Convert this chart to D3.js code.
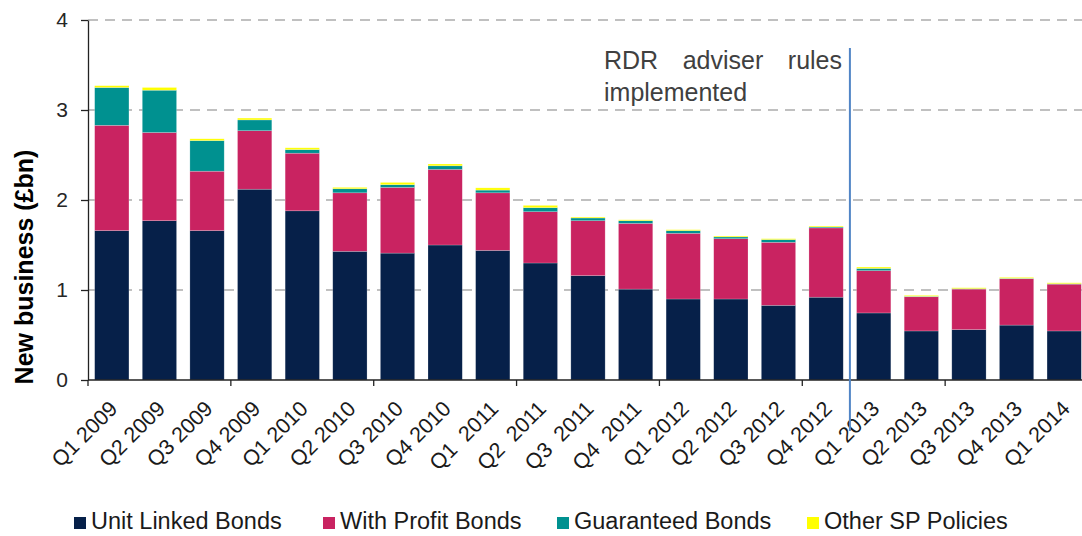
<!DOCTYPE html>
<html>
<head>
<meta charset="utf-8">
<script src="https://cdn.jsdelivr.net/npm/d3@7"></script>
<style>
  body { margin: 0; background: #fff; }
  svg { display: block; font-family: "Liberation Sans", Arial, sans-serif; }
</style>
</head>
<body>
<script>
const w = 1082;
const h = 536;

// quarters on the x axis (some labels carry a double space, as in the source)
const quarters = ["Q1 2009", "Q2 2009", "Q3 2009", "Q4 2009", "Q1 2010", "Q2 2010", "Q3 2010", "Q4 2010",
  "Q1  2011", "Q2  2011", "Q3  2011", "Q4  2011", "Q1 2012", "Q2 2012", "Q3 2012", "Q4 2012",
  "Q1 2013", "Q2 2013", "Q3 2013", "Q4 2013", "Q1 2014"];

// new business, £bn
const unitLinked = [1.66, 1.77, 1.66, 2.12, 1.88, 1.43, 1.41, 1.50, 1.44, 1.30, 1.16, 1.01, 0.90, 0.90, 0.83, 0.92, 0.745, 0.545, 0.56, 0.61, 0.545];
const withProfit = [1.17, 0.98, 0.66, 0.65, 0.64, 0.65, 0.73, 0.84, 0.64, 0.57, 0.61, 0.73, 0.73, 0.67, 0.70, 0.77, 0.47, 0.38, 0.45, 0.515, 0.52];
const guaranteed = [0.42, 0.47, 0.34, 0.12, 0.04, 0.045, 0.03, 0.04, 0.03, 0.045, 0.03, 0.03, 0.03, 0.02, 0.03, 0.01, 0.025, 0.005, 0.005, 0.005, 0.005];
const otherSP = [0.02, 0.03, 0.02, 0.02, 0.02, 0.015, 0.025, 0.02, 0.025, 0.025, 0.01, 0.01, 0.01, 0.01, 0.01, 0.01, 0.015, 0.01, 0.01, 0.01, 0.01];

const seriesNames = ["Unit Linked Bonds", "With Profit Bonds", "Guaranteed Bonds", "Other SP Policies"];
const seriesKeys = ["ul", "wp", "gb", "ot"];
const colors = ["#062049", "#c92361", "#009190", "#ffff00"];
const yTicks = [0, 1, 2, 3, 4];

const rdrIndex = 16; // line drawn before Q1 2013
const rdrText = ["RDR", "adviser", "rules"];
const rdrText2 = "implemented";

const rows = quarters.map((q, i) => ({
  q: q, ul: unitLinked[i], wp: withProfit[i], gb: guaranteed[i], ot: otherSP[i]
}));

const plotLeft = 88, plotRight = 1088, plotTop = 20, plotBottom = 380;

const svg = d3.select("body").append("svg")
  .attr("width", w)
  .attr("height", h);

const x = d3.scaleBand()
  .domain(quarters)
  .range([plotLeft, plotRight])
  .paddingInner(0.28)
  .paddingOuter(0.14);

const y = d3.scaleLinear()
  .domain([0, 4])
  .range([plotBottom, plotTop]);

const step = x.step();
const edge = i => x(quarters[i]) - (step - x.bandwidth()) / 2;

// dashed gridlines
svg.append("g")
  .selectAll("line")
  .data(yTicks.filter(d => d > 0))
  .enter()
  .append("line")
  .attr("x1", plotLeft)
  .attr("x2", w)
  .attr("y1", d => y(d))
  .attr("y2", d => y(d))
  .attr("stroke", "#c0c0c0")
  .attr("stroke-width", 2)
  .attr("stroke-dasharray", "10,7");

// stacked bars
const stacked = d3.stack().keys(seriesKeys)(rows);

svg.append("g")
  .selectAll("g")
  .data(stacked)
  .enter()
  .append("g")
  .attr("fill", (d, i) => colors[i])
  .selectAll("rect")
  .data(d => d)
  .enter()
  .append("rect")
  .attr("x", d => x(d.data.q))
  .attr("width", x.bandwidth())
  .attr("y", d => y(d[1]))
  .attr("height", d => y(d[0]) - y(d[1]))
  .attr("stroke", "#ffffff")
  .attr("stroke-opacity", 0.35)
  .attr("stroke-width", 0.6);

// y axis
const yAxis = d3.axisLeft(y)
  .tickValues(yTicks)
  .tickFormat(d3.format("d"))
  .tickSize(7)
  .tickSizeOuter(0)
  .tickPadding(13);

const yAxisGroup = svg.append("g")
  .attr("transform", `translate(${plotLeft}, 0)`)
  .call(yAxis);
yAxisGroup.select(".domain").attr("stroke", "#222").attr("stroke-width", 1.3);
yAxisGroup.selectAll(".tick line").attr("stroke", "#222").attr("stroke-width", 1.3);
yAxisGroup.selectAll(".tick text")
  .attr("font-size", 21)
  .attr("font-family", "Liberation Sans, Arial, sans-serif")
  .attr("fill", "#262626");

// x axis line and tick marks every third quarter
svg.append("line")
  .attr("x1", plotLeft)
  .attr("x2", w)
  .attr("y1", plotBottom)
  .attr("y2", plotBottom)
  .attr("stroke", "#222")
  .attr("stroke-width", 1.3);

svg.append("g")
  .selectAll("line")
  .data(d3.range(0, quarters.length + 1, 3))
  .enter()
  .append("line")
  .attr("x1", i => i < quarters.length ? edge(i) : plotRight)
  .attr("x2", i => i < quarters.length ? edge(i) : plotRight)
  .attr("y1", plotBottom)
  .attr("y2", plotBottom + 6)
  .attr("stroke", "#222")
  .attr("stroke-width", 1.3);

// rotated quarter labels
svg.append("g")
  .selectAll("text")
  .data(quarters)
  .enter()
  .append("text")
  .attr("transform", d => `translate(${x(d) + x.bandwidth() / 2 + 7}, 410) rotate(-45)`)
  .attr("text-anchor", "end")
  .attr("font-size", 21.5)
  .attr("fill", "#1a1a1a")
  .style("white-space", "pre")
  .text(d => d);

// y axis title
svg.append("text")
  .attr("transform", "translate(33, 267) rotate(-90)")
  .attr("text-anchor", "middle")
  .attr("font-size", 25)
  .attr("font-weight", "bold")
  .attr("fill", "#000")
  .text("New business (£bn)");

// RDR line
const rdrX = edge(rdrIndex);
svg.append("line")
  .attr("x1", rdrX)
  .attr("x2", rdrX)
  .attr("y1", 48)
  .attr("y2", 431)
  .attr("stroke", "#5185c6")
  .attr("stroke-width", 2);

// annotation, first line justified word by word
const noteX = [604, 723, 842];
const anchors = ["start", "middle", "end"];
svg.append("g")
  .selectAll("text")
  .data(rdrText)
  .enter()
  .append("text")
  .attr("x", (d, i) => noteX[i])
  .attr("y", 69)
  .attr("text-anchor", (d, i) => anchors[i])
  .attr("font-size", 25)
  .attr("fill", "#404040")
  .text(d => d);

svg.append("text")
  .attr("x", noteX[0])
  .attr("y", 101)
  .attr("font-size", 25)
  .attr("fill", "#404040")
  .text(rdrText2);

// legend
const legendX = [74, 323, 557, 807];
const legend = svg.append("g")
  .selectAll("g")
  .data(seriesNames)
  .enter()
  .append("g")
  .attr("transform", (d, i) => `translate(${legendX[i]}, 0)`);

legend.append("rect")
  .attr("x", 0)
  .attr("y", 517)
  .attr("width", 12)
  .attr("height", 12)
  .attr("fill", (d, i) => colors[i]);

legend.append("text")
  .attr("x", 17)
  .attr("y", 529)
  .attr("font-size", 23.5)
  .attr("fill", "#1a1a1a")
  .text(d => d);
</script>
</body>
</html>
